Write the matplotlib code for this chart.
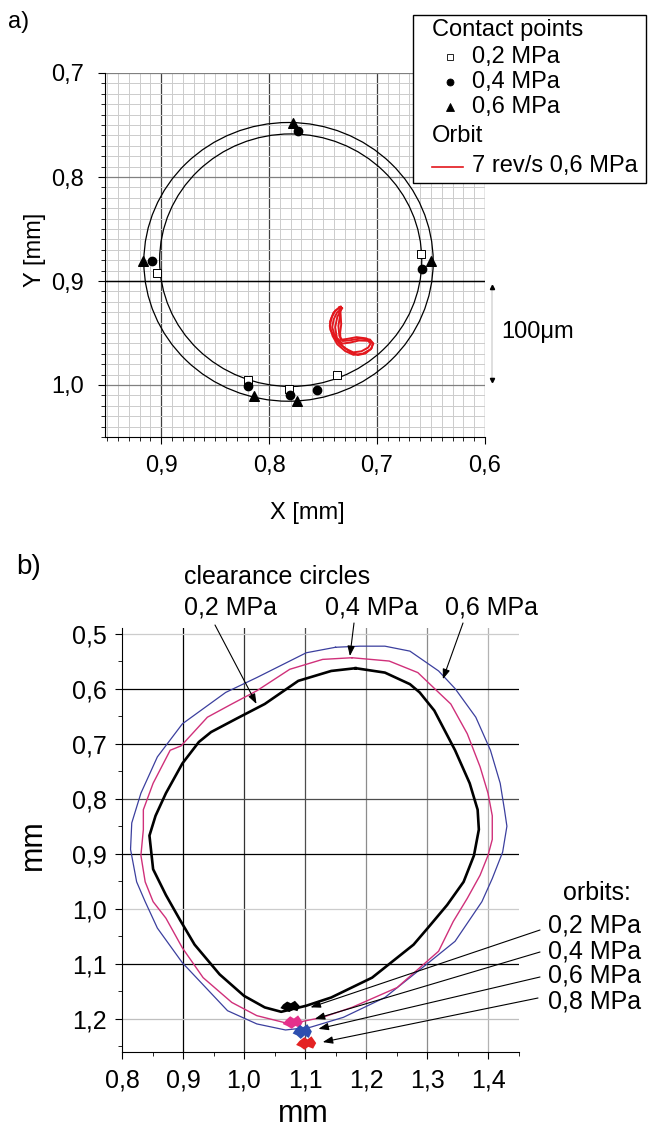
import matplotlib
matplotlib.use("Agg")
import matplotlib.pyplot as plt
from matplotlib.patches import Circle, Rectangle
from matplotlib.lines import Line2D
from matplotlib.ticker import MultipleLocator, FuncFormatter

plt.rcParams['font.family'] = ['Liberation Sans', 'DejaVu Sans']

# ---- panel a) data ----
# clearance circles (centre x, centre y, radius) in mm
clr_cx = [0.782, 0.780]
clr_cy = [0.8816, 0.880]
clr_r = [0.134, 0.1214]

# contact points
p02_x = [0.9034, 0.6593, 0.8192, 0.7812, 0.7368]
p02_y = [0.8923, 0.8739, 0.9954, 1.0034, 0.9908]
p04_x = [0.7734, 0.9081, 0.6583, 0.8197, 0.7806, 0.7556]
p04_y = [0.7554, 0.8810, 0.8884, 1.0005, 1.0099, 1.0050]
p06_x = [0.7775, 0.9169, 0.6500, 0.8136, 0.7744]
p06_y = [0.7476, 0.8810, 0.8810, 1.0101, 1.0157]

# orbit 7 rev/s, 0.6 MPa (three revolutions)
orb_a_x = [0.7336, 0.7389, 0.7420, 0.7438, 0.7412, 0.7368, 0.7296, 0.7219, 0.7133, 0.7058,
           0.7034, 0.7065, 0.7157, 0.7250, 0.7318, 0.7349, 0.7358, 0.7343, 0.7336]
orb_a_y = [0.9248, 0.9287, 0.9351, 0.9432, 0.9528, 0.9609, 0.9673, 0.9710, 0.9699, 0.9657,
           0.9602, 0.9563, 0.9553, 0.9570, 0.9577, 0.9528, 0.9432, 0.9335, 0.9248]
orb_b_x = [0.7325, 0.7372, 0.7402, 0.7415, 0.7392, 0.7352, 0.7288, 0.7220, 0.7145, 0.7082,
           0.7058, 0.7086, 0.7168, 0.7250, 0.7322, 0.7372, 0.7388, 0.7368, 0.7325]
orb_b_y = [0.9262, 0.9305, 0.9370, 0.9445, 0.9528, 0.9598, 0.9652, 0.9686, 0.9676, 0.9640,
           0.9600, 0.9575, 0.9572, 0.9592, 0.9602, 0.9545, 0.9445, 0.9345, 0.9262]
orb_c_x = [0.7348, 0.7404, 0.7435, 0.7432, 0.7384, 0.7322, 0.7250, 0.7178, 0.7106, 0.7050,
           0.7040, 0.7098, 0.7190, 0.7272, 0.7338, 0.7342, 0.7332, 0.7337, 0.7348]
orb_c_y = [0.9252, 0.9305, 0.9388, 0.9470, 0.9562, 0.9625, 0.9680, 0.9712, 0.9696, 0.9646,
           0.9598, 0.9552, 0.9540, 0.9556, 0.9566, 0.9498, 0.9418, 0.9328, 0.9252]

# ---- panel b) data ----
c02_x = [1.183, 1.231, 1.272, 1.288, 1.312, 1.346, 1.370, 1.383, 1.385, 1.377, 1.360, 1.333,
         1.305, 1.278, 1.210, 1.143, 1.102, 1.061, 1.034, 1.000, 0.960, 0.919, 0.895, 0.872,
         0.851, 0.845, 0.855, 0.872, 0.899, 0.926, 0.946, 0.987, 1.034, 1.089, 1.143, 1.183]
c02_y = [0.563, 0.571, 0.592, 0.607, 0.640, 0.712, 0.772, 0.820, 0.856, 0.903, 0.951, 0.993,
         1.030, 1.065, 1.125, 1.161, 1.176, 1.187, 1.179, 1.158, 1.119, 1.065, 1.020, 0.975,
         0.928, 0.867, 0.831, 0.790, 0.736, 0.697, 0.679, 0.655, 0.628, 0.586, 0.568, 0.563]
c04_x = [1.177, 1.238, 1.285, 1.319, 1.339, 1.366, 1.387, 1.400, 1.407, 1.407, 1.400, 1.387,
         1.366, 1.343, 1.319, 1.251, 1.177, 1.129, 1.089, 1.075, 1.021, 0.980, 0.933, 0.899,
         0.872, 0.851, 0.838, 0.831, 0.835, 0.835, 0.851, 0.879, 0.897, 0.940, 0.980, 1.021,
         1.075, 1.129, 1.177]
c04_y = [0.544, 0.550, 0.571, 0.607, 0.628, 0.682, 0.742, 0.790, 0.831, 0.874, 0.903, 0.939,
         0.981, 1.023, 1.077, 1.143, 1.179, 1.197, 1.206, 1.209, 1.194, 1.170, 1.125, 1.071,
         1.017, 0.987, 0.951, 0.903, 0.856, 0.820, 0.772, 0.712, 0.704, 0.652, 0.628, 0.604,
         0.565, 0.547, 0.544]
c06_x = [1.150, 1.190, 1.231, 1.272, 1.319, 1.346, 1.380, 1.404, 1.420, 1.427, 1.431, 1.424,
         1.407, 1.390, 1.346, 1.299, 1.231, 1.163, 1.109, 1.068, 1.021, 0.973, 0.899, 0.858,
         0.838, 0.824, 0.814, 0.816, 0.831, 0.858, 0.899, 0.970, 1.021, 1.102, 1.150]
c06_y = [0.525, 0.523, 0.523, 0.532, 0.568, 0.600, 0.652, 0.712, 0.772, 0.820, 0.850, 0.897,
         0.945, 0.987, 1.059, 1.101, 1.161, 1.197, 1.215, 1.220, 1.209, 1.185, 1.098, 1.035,
         0.987, 0.951, 0.892, 0.844, 0.790, 0.724, 0.664, 0.607, 0.580, 0.535, 0.525]

# small orbits at the bottom of the clearance circles
ob02_x = [1.066, 1.071, 1.077, 1.083, 1.088, 1.086, 1.080, 1.074, 1.068, 1.064, 1.066]
ob02_y = [1.176, 1.172, 1.175, 1.171, 1.177, 1.182, 1.180, 1.184, 1.181, 1.179, 1.176]
ob04_x = [1.071, 1.076, 1.082, 1.088, 1.093, 1.090, 1.084, 1.078, 1.072, 1.068, 1.071]
ob04_y = [1.204, 1.199, 1.203, 1.198, 1.206, 1.212, 1.209, 1.214, 1.210, 1.208, 1.204]
ob06_x = [1.087, 1.092, 1.097, 1.103, 1.108, 1.105, 1.099, 1.093, 1.088, 1.084, 1.087]
ob06_y = [1.220, 1.215, 1.219, 1.214, 1.223, 1.230, 1.226, 1.232, 1.227, 1.225, 1.220]
ob08_x = [1.093, 1.099, 1.104, 1.110, 1.115, 1.112, 1.105, 1.099, 1.094, 1.090, 1.093]
ob08_y = [1.242, 1.237, 1.241, 1.236, 1.244, 1.250, 1.247, 1.252, 1.248, 1.246, 1.242]

# arrow targets
clr_tip_x = [1.0205, 1.1736, 1.326]
clr_tip_y = [0.628, 0.541, 0.583]
orb_tip_x = [1.109, 1.116, 1.122, 1.129]
orb_tip_y = [1.179, 1.200, 1.218, 1.242]
pressures = ['0,2 MPa', '0,4 MPa', '0,6 MPa', '0,8 MPa']

W, H = 649, 1129


def fx(px):
    return px / W


def fy(py):
    return 1 - py / H


comma = FuncFormatter(lambda v, p: f"{v:.1f}".replace(".", ","))

fig = plt.figure(figsize=(W / 100, H / 100), dpi=100)

# ================= panel a =================
ax1 = fig.add_axes([fx(105), fy(437), 380 / W, 364 / H])
ax1.set_xlim(0.952, 0.6)
ax1.set_ylim(1.05, 0.7)
for axis in (ax1.xaxis, ax1.yaxis):
    axis.set_major_locator(MultipleLocator(0.1))
    axis.set_minor_locator(MultipleLocator(0.01))
    axis.set_major_formatter(comma)
ax1.grid(which='minor', color='0.8', lw=0.7, zorder=0)
ax1.xaxis.grid(which='major', color='0.25', lw=0.9, zorder=0)
ax1.yaxis.grid(which='major', color='0.5', lw=0.9, zorder=0)
ax1.axhline(0.9, color='black', lw=1.0, zorder=1)
ax1.set_axisbelow(True)
for s in ('top', 'right'):
    ax1.spines[s].set_visible(False)
ax1.tick_params(which='major', direction='out', length=5, labelsize=17)
ax1.tick_params(which='minor', direction='out', length=3)
ax1.tick_params(axis='x', pad=8)
ax1.tick_params(axis='y', pad=10)

for cx, cy, r in zip(clr_cx, clr_cy, clr_r):
    ax1.add_patch(Circle((cx, cy), r, fill=False, ec='black', lw=0.9, zorder=3))

ax1.scatter(p02_x, p02_y, marker='s', s=26, facecolor='white', edgecolor='black', lw=0.7, zorder=5)
ax1.scatter(p04_x, p04_y, marker='o', s=36, color='black', zorder=5)
ax1.scatter(p06_x, p06_y, marker='^', s=48, color='black', zorder=5)
for ox, oy in ((orb_a_x, orb_a_y), (orb_b_x, orb_b_y), (orb_c_x, orb_c_y)):
    ax1.plot(ox, oy, color='#e3171d', lw=1.4, zorder=4)

fig.text(fx(307), fy(513), 'X [mm]', fontsize=17, ha='center', va='center')
fig.text(fx(35), fy(250), 'Y [mm]', fontsize=17, ha='center', va='center', rotation=90)
fig.text(fx(8), fy(22), 'a)', fontsize=17, ha='left', va='center')

# scale bar 100 um
fig.add_artist(Line2D([fx(492), fx(492)], [fy(286), fy(381)], color='0.85', lw=1.2))
fig.add_artist(Line2D([fx(492)], [fy(287)], marker='^', ms=3, color='black', lw=0))
fig.add_artist(Line2D([fx(492)], [fy(380)], marker='v', ms=3, color='black', lw=0))
fig.text(fx(501), fy(332), '100\u03bcm', fontsize=17, ha='left', va='center')

# legend box
fig.add_artist(Rectangle((fx(413), fy(183)), (646 - 413) / W, 168 / H, transform=fig.transFigure,
                         fc='white', ec='black', lw=1.0, zorder=10))
leg_rows = [('Contact points', 30, None), ('0,2 MPa', 57, 's'), ('0,4 MPa', 82, 'o'),
            ('0,6 MPa', 107, '^'), ('Orbit', 136, None), ('7 rev/s 0,6 MPa', 166, '-')]
for label, py, mk in leg_rows:
    if mk is None:
        fig.text(fx(432), fy(py), label, fontsize=17, ha='left', va='center', zorder=11)
        continue
    if mk == '-':
        fig.add_artist(Line2D([fx(432), fx(463)], [fy(py + 1), fy(py + 1)], color='#e3171d', lw=1.2, zorder=11))
    else:
        fig.add_artist(Line2D([fx(450)], [fy(py)], marker=mk, lw=0, zorder=11,
                              ms={'s': 4, 'o': 5, '^': 6}[mk],
                              mfc='white' if mk == 's' else 'black', mec='black', mew=0.6))
    fig.text(fx(472), fy(py), label, fontsize=17, ha='left', va='center', zorder=11)

# ================= panel b =================
ax2 = fig.add_axes([fx(122), fy(1052), 396.5 / W, 424 / H])
ax2.set_xlim(0.8, 1.45)
ax2.set_ylim(1.26, 0.49)
for axis in (ax2.xaxis, ax2.yaxis):
    axis.set_major_locator(MultipleLocator(0.1))
    axis.set_minor_locator(MultipleLocator(0.05))
    axis.set_major_formatter(comma)
for s in ('top', 'right'):
    ax2.spines[s].set_visible(False)
ax2.tick_params(which='major', direction='out', length=5, labelsize=18)
ax2.tick_params(which='minor', direction='out', length=3)
ax2.tick_params(axis='x', pad=7)
ax2.tick_params(axis='y', pad=6)

grid_x = [0.9, 1.0, 1.1, 1.2, 1.3, 1.4]
grid_x_col = ['black', '0.2', '0.3', '0.55', '0.55', '0.7']
grid_y = [0.5, 0.6, 0.7, 0.8, 0.9, 1.0, 1.1, 1.2]
grid_y_col = ['0.8', 'black', 'black', '0.3', 'black', '0.8', 'black', '0.75']
for gx, gc in zip(grid_x, grid_x_col):
    ax2.axvline(gx, color=gc, lw=0.9, zorder=0)
for gy, gc in zip(grid_y, grid_y_col):
    ax2.axhline(gy, color=gc, lw=0.9, zorder=0)

ax2.plot(c06_x, c06_y, color='#3b3f9e', lw=0.9, zorder=3)
ax2.plot(c04_x, c04_y, color='#d0307a', lw=1.0, zorder=3)
ax2.plot(c02_x, c02_y, color='black', lw=1.9, zorder=3)

for ox, oy, col in ((ob02_x, ob02_y, 'black'), (ob04_x, ob04_y, '#e5318c'),
                    (ob06_x, ob06_y, '#2d4fb0'), (ob08_x, ob08_y, '#e42222')):
    ax2.fill(ox, oy, color=col, lw=2.5, ec=col, zorder=4)

arrow = dict(arrowstyle='-|>,head_length=0.6,head_width=0.22', color='black', lw=0.8,
             shrinkA=0, shrinkB=0)

fig.text(fx(184), fy(577), 'clearance circles', fontsize=18, ha='left', va='center')
clr_text_px = [184, 325, 445]
clr_start = [(215, 625), (354, 623), (463, 623)]
for lbl, tx, (sx, sy), ex, ey in zip(pressures[:3], clr_text_px, clr_start, clr_tip_x, clr_tip_y):
    fig.text(fx(tx), fy(607), lbl, fontsize=18, ha='left', va='center')
    ax2.annotate('', xy=(ex, ey), xycoords='data', xytext=(fx(sx), fy(sy)),
                 textcoords='figure fraction', arrowprops=arrow, annotation_clip=False)

fig.text(fx(597), fy(893), 'orbits:', fontsize=18, ha='center', va='center')
orb_text_py = [925, 952, 976, 1002]
orb_start = [(540, 930), (540, 952), (540, 977), (538, 998)]
for lbl, ty, (sx, sy), ex, ey in zip(pressures, orb_text_py, orb_start, orb_tip_x, orb_tip_y):
    fig.text(fx(548), fy(ty), lbl, fontsize=18, ha='left', va='center')
    ax2.annotate('', xy=(ex, ey), xycoords='data', xytext=(fx(sx), fy(sy)),
                 textcoords='figure fraction', arrowprops=arrow, annotation_clip=False)

fig.text(fx(303), fy(1114), 'mm', fontsize=22, ha='center', va='center')
fig.text(fx(33), fy(845), 'mm', fontsize=22, ha='center', va='center', rotation=90)
fig.text(fx(16), fy(567), 'b)', fontsize=20, ha='left', va='center')

fig.savefig('out.png', dpi=100)
